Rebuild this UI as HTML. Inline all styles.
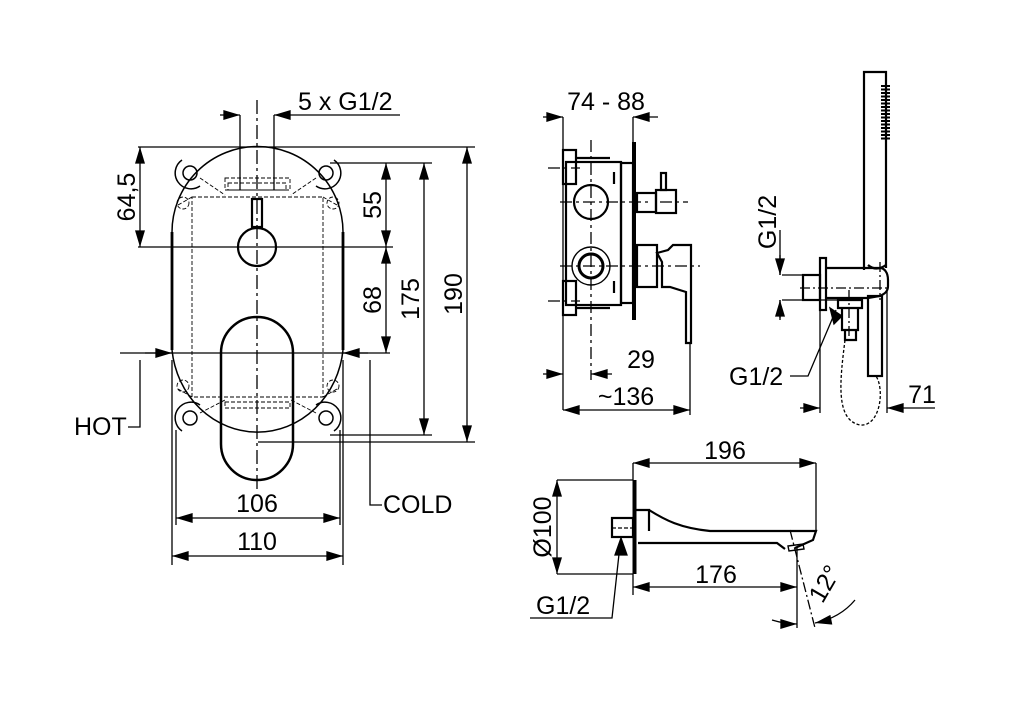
<!DOCTYPE html>
<html><head><meta charset="utf-8"><style>
html,body{margin:0;padding:0;background:#fff}
svg{display:block}
text{font-family:"Liberation Sans",Arial,sans-serif;font-size:25px;fill:#000}
</style></head><body>
<svg width="1024" height="720" viewBox="0 0 1024 720" xmlns="http://www.w3.org/2000/svg">
<defs>
<marker id="a" viewBox="0 0 10 6" refX="10" refY="3" markerWidth="18" markerHeight="10" markerUnits="userSpaceOnUse" orient="auto"><path d="M0,0L10,3L0,6z"/></marker>
<marker id="b" viewBox="0 0 10 6" refX="0" refY="3" markerWidth="18" markerHeight="10" markerUnits="userSpaceOnUse" orient="auto"><path d="M10,0L0,3L10,6z"/></marker>
</defs>
<g fill="none" stroke="#000" stroke-width="1.3">
<!-- LEFT VIEW -->
<path d="M138,147H475 M330,163H432 M330,435H432 M258,442H475 M138,247H393 M120,353H390"/>
<path d="M240,115V190 M274,115V190 M172,360V565 M343,360V565 M176,430V525 M340,430V525"/>
<path d="M140,360V427H128 M370,360V505H382"/>
<path d="M257,100V490" stroke-dasharray="14,4,3,4"/>
<path d="M220,115H240" marker-end="url(#a)"/>
<path d="M400,115H274" marker-end="url(#a)"/>
<path d="M140,147V247" marker-start="url(#b)" marker-end="url(#a)"/>
<path d="M386,163V247" marker-start="url(#b)" marker-end="url(#a)"/>
<path d="M386,247V353" marker-start="url(#b)" marker-end="url(#a)"/>
<path d="M424,163V435" marker-start="url(#b)" marker-end="url(#a)"/>
<path d="M467,147V442" marker-start="url(#b)" marker-end="url(#a)"/>
<path d="M145,353H172" marker-end="url(#a)"/>
<path d="M368,353H343" marker-end="url(#a)"/>
<path d="M176,518H340" marker-start="url(#b)" marker-end="url(#a)"/>
<path d="M172,556H343" marker-start="url(#b)" marker-end="url(#a)"/>
<path d="M172,232A85,85 0 0 1 343,232 M172,350A86,92 0 0 0 343,350" stroke-width="1.5"/>
<path d="M172,232V350 M343,232V350" stroke-width="2.8"/>
<g stroke-width="1.5">
<circle cx="190" cy="173" r="7"/><circle cx="326" cy="173" r="7"/><circle cx="190" cy="418" r="7"/><circle cx="326" cy="418" r="7"/>
<path d="M182,160A13,13 0 1 0 200,186 M334,160A13,13 0 1 1 316,186 M182,431A13,13 0 1 1 200,405 M334,431A13,13 0 1 0 316,405"/>
</g>
<g stroke-dasharray="4,2" stroke-width="0.9">
<rect x="192" y="197" width="131" height="200"/>
<path d="M192,197L178,205 M323,197L337,205 M192,397L178,389 M323,397L337,389 M200,178L225,195 M316,178L291,195 M200,413L225,400 M316,413L291,400"/>
<rect x="225" y="178" width="65" height="12"/><rect x="228" y="183" width="58" height="7"/>
<circle cx="183" cy="203" r="6"/><circle cx="333" cy="203" r="6"/><circle cx="183" cy="386" r="6"/><circle cx="333" cy="386" r="6"/>
<rect x="225" y="402" width="65" height="6"/>
<path d="M258,442H355" />
</g>
<circle cx="257" cy="247" r="19" stroke-width="2.2"/>
<rect x="252" y="199" width="10" height="28" stroke-width="2.2"/>
<path d="M221,353A36,36 0 0 1 293,353V444A36,36 0 0 1 221,444Z" stroke-width="2.5" fill="none"/>

<!-- MIDDLE VIEW -->
<path d="M563,117V410 M633,117V143 M690,343V415"/>
<path d="M591,140V380 M548,168H580 M548,301H580 M560,202H650 M560,266H700 M660,202H688" stroke-dasharray="12,4,3,4"/>
<path d="M543,117H563" marker-end="url(#a)"/>
<path d="M658,117H633" marker-end="url(#a)"/>
<path d="M543,374H563" marker-end="url(#a)"/>
<path d="M612,374H591" marker-end="url(#a)"/>
<path d="M563,410H690" marker-start="url(#b)" marker-end="url(#a)"/>
<g stroke-width="2.2">
<rect x="566" y="162" width="55" height="143"/>
<rect x="621" y="163" width="12" height="140"/>
<rect x="563" y="150" width="13" height="34"/><rect x="563" y="281" width="13" height="34"/>
<path d="M576,158H610 M576,308H610 M614,172V184 M614,281V293"/>
<circle cx="591" cy="202" r="17"/>
<circle cx="591" cy="266" r="19" stroke-width="1.4"/>
<circle cx="591" cy="266" r="12" stroke-width="3"/>
<rect x="637" y="193" width="19" height="19"/>
<rect x="656" y="190" width="20" height="23"/>
<rect x="661" y="173" width="5" height="17"/>
<rect x="637" y="245" width="20" height="42"/>
<path d="M657,253L668,250L673,245H691V343H686V292L670,287H662V262Z"/>
</g>
<path d="M634,142V320" stroke-width="4"/>

<!-- HAND SHOWER -->
<path d="M782,275H820 M782,300H840 M820,300V413 M887,290V413 M780,230V275 M780,300V318"/>
<path d="M780,255V275" marker-end="url(#a)"/>
<path d="M780,320V300" marker-end="url(#a)"/>
<path d="M800,408H820" marker-end="url(#a)"/>
<path d="M935,408H887" marker-end="url(#a)"/>
<path d="M790,376H808L836,310" />
<path d="M842,316L830,308L834,324Z" fill="#000"/>
<path d="M800,288H890 M849,290V340 M880,262V300" stroke-dasharray="10,3,2,3"/>
<path d="M845,340C840,380 835,420 860,425C880,427 885,390 876,376" stroke-dasharray="3,2"/>
<g stroke-width="2.2">
<path d="M864,270V72H886V268"/>
<rect x="803" y="275" width="17" height="25"/>
<rect x="820" y="258" width="6" height="52"/>
<path d="M826,268H880C884,268 888,272 888,280V286C888,292 884,294 880,296L868,298H826"/>
<path d="M868,265Q876,272 886,265"/>
<rect x="868" y="296" width="14" height="80"/>
<path d="M838,300H862V308H838Z M842,308V330H858V308 M845,330V340H856V330"/>
</g>
<path d="M885.5,85V140" stroke-width="9" stroke-dasharray="2,1.5"/>

<!-- SPOUT -->
<path d="M633,463V480 M816,463V532 M557,480H633 M557,574H633 M530,618H612L620,545 M633,574V595 M797,548V628"/>
<path d="M790,530L815,628" stroke-dasharray="10,3,2,3"/>
<path d="M612,528H633" stroke-dasharray="4,2"/>
<path d="M633,463H816" marker-start="url(#b)" marker-end="url(#a)"/>
<path d="M557,480V574" marker-start="url(#b)" marker-end="url(#a)"/>
<path d="M633,587H797" marker-start="url(#b)" marker-end="url(#a)"/>
<path d="M772,620Q785,624 797,624" marker-end="url(#a)"/>
<path d="M855,600Q840,618 815,623" marker-end="url(#a)"/>
<path d="M615,555L621,538L627,555Z" fill="#000"/>
<g stroke-width="2.2">
<rect x="612" y="518" width="21" height="19"/>
<path d="M636,510H649V531"/>
<path d="M649,510C665,520 680,528 710,531H816L813,540L795,548 M638,543H777L785,549"/>
<path d="M788,546L803,544L804,549L789,551Z" stroke-width="1.4"/>
</g>
<path d="M634.5,480V574" stroke-width="4"/>
</g>
<text x="298" y="110">5 x G1/2</text>
<text transform="translate(135,197) rotate(-90)" text-anchor="middle">64,5</text>
<text transform="translate(381,205) rotate(-90)" text-anchor="middle">55</text>
<text transform="translate(381,300) rotate(-90)" text-anchor="middle">68</text>
<text transform="translate(419,299) rotate(-90)" text-anchor="middle">175</text>
<text transform="translate(462,294) rotate(-90)" text-anchor="middle">190</text>
<text x="74" y="435">HOT</text>
<text x="383" y="513">COLD</text>
<text x="257" y="512" text-anchor="middle">106</text>
<text x="257" y="550" text-anchor="middle">110</text>
<text x="606" y="110" text-anchor="middle">74 - 88</text>
<text x="641" y="368" text-anchor="middle">29</text>
<text x="626" y="405" text-anchor="middle">~136</text>
<text transform="translate(776,222) rotate(-90)" text-anchor="middle">G1/2</text>
<text x="729" y="385">G1/2</text>
<text x="922" y="403" text-anchor="middle">71</text>
<text x="725" y="459" text-anchor="middle">196</text>
<text transform="translate(551,527) rotate(-90)" text-anchor="middle">Ø100</text>
<text x="716" y="583" text-anchor="middle">176</text>
<text x="536" y="614">G1/2</text>
<text transform="translate(832,588) rotate(-60)" text-anchor="middle">12°</text>
</svg>
</body></html>
